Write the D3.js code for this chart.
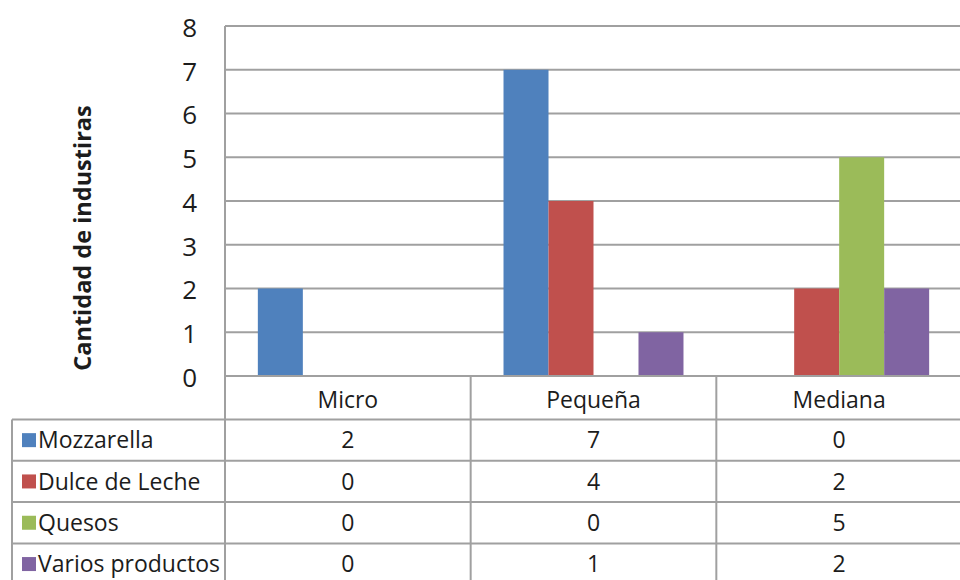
<!DOCTYPE html>
<html>
<head>
<meta charset="utf-8">
<script src="https://cdn.jsdelivr.net/npm/d3@7"></script>
<style>
  html, body { margin: 0; padding: 0; background: #fff; }
  svg { display: block; font-family: "Open Sans", Lato, sans-serif; }
</style>
</head>
<body>
<svg id="chart" width="960" height="580"></svg>
<script>
// Industries by size and product type
const categories = ["Micro", "Pequeña", "Mediana"];
const seriesNames = ["Mozzarella", "Dulce de Leche", "Quesos", "Varios productos"];
const mozzarella = [2, 7, 0];
const dulceDeLeche = [0, 4, 2];
const quesos = [0, 0, 5];
const variosProductos = [0, 1, 2];
const yTicks = [0, 1, 2, 3, 4, 5, 6, 7, 8];
const yTitle = "Cantidad de industiras";

const seriesValues = [mozzarella, dulceDeLeche, quesos, variosProductos];
const colors = ["#4F81BD", "#C0504D", "#9BBB59", "#8064A2"];
const gridColor = "#a0a0a0";
const textColor = "#1c1c1c";
const fontFamily = "'Open Sans', Lato, sans-serif";
const tableFont = 23;

const svg = d3.select("#chart");

const plot = { left: 225, right: 962, top: 26, bottom: 376 };
const table = { left: 12, headerBottom: 419.5, rowStep: 41.3 };

const x = d3.scaleBand().domain(categories).range([plot.left, plot.right]).padding(0);
const xs = d3.scaleBand().domain(seriesNames).range([0, x.bandwidth()])
  .paddingInner(0).paddingOuter(0.73);
const y = d3.scaleLinear().domain([0, 8]).range([plot.bottom, plot.top]);

// horizontal gridlines
svg.append("g").selectAll("line")
  .data(yTicks.filter(t => t > 0))
  .join("line")
  .attr("x1", plot.left).attr("x2", plot.right)
  .attr("y1", d => y(d)).attr("y2", d => y(d))
  .attr("stroke", gridColor).attr("stroke-width", 2);

// bars
const rows = [];
seriesNames.forEach((s, si) => {
  categories.forEach((c, ci) => rows.push({ s, si, c, v: seriesValues[si][ci] }));
});
svg.append("g").selectAll("rect")
  .data(rows.filter(d => d.v > 0))
  .join("rect")
  .attr("x", d => x(d.c) + xs(d.s))
  .attr("width", xs.bandwidth())
  .attr("y", d => y(d.v))
  .attr("height", d => y(0) - y(d.v))
  .attr("fill", d => colors[d.si]);

// y axis labels
const yAxis = d3.axisLeft(y).tickValues(yTicks).tickSize(0).tickPadding(0).tickFormat(d3.format("d"));
const ya = svg.append("g").attr("transform", `translate(197,2)`).call(yAxis);
ya.select(".domain").remove();
ya.selectAll("text")
  .attr("font-size", 26).attr("fill", textColor)
  .attr("font-family", fontFamily);

// y title
svg.append("text")
  .attr("transform", `translate(91,${(plot.top + plot.bottom) / 2 + 37}) rotate(-90)`)
  .attr("text-anchor", "middle")
  .attr("font-size", 23.5).attr("font-weight", "bold").attr("fill", textColor)
  .text(yTitle);

// data table
const ry = d3.scaleBand().domain(seriesNames)
  .range([table.headerBottom, table.headerBottom + table.rowStep * seriesNames.length]);
const tableBottom = 600;

const lines = svg.append("g").attr("stroke", gridColor).attr("stroke-width", 2);
// left axis line running down into the table
lines.append("line").attr("x1", plot.left).attr("x2", plot.left).attr("y1", plot.top).attr("y2", tableBottom);
// category column separators
categories.slice(1).forEach(c => {
  lines.append("line").attr("x1", x(c)).attr("x2", x(c)).attr("y1", plot.bottom).attr("y2", tableBottom);
});
// zero line / header top
lines.append("line").attr("x1", plot.left).attr("x2", plot.right).attr("y1", y(0)).attr("y2", y(0));
// row separators
seriesNames.forEach(s => {
  lines.append("line").attr("x1", table.left).attr("x2", plot.right).attr("y1", ry(s)).attr("y2", ry(s));
});
lines.append("line").attr("x1", table.left).attr("x2", table.left).attr("y1", table.headerBottom).attr("y2", tableBottom);

// header
svg.append("g").selectAll("text")
  .data(categories)
  .join("text")
  .attr("x", d => x(d) + x.bandwidth() / 2)
  .attr("y", (y(0) + table.headerBottom) / 2 + 2)
  .attr("dy", "0.35em")
  .attr("text-anchor", "middle")
  .attr("font-size", tableFont).attr("fill", textColor)
  .text(d => d);

// legend keys and series names
const leg = svg.append("g").selectAll("g")
  .data(seriesNames)
  .join("g")
  .attr("transform", d => `translate(0,${ry(d) + ry.bandwidth() / 2})`);
leg.append("rect")
  .attr("x", 22).attr("y", -7).attr("width", 14).attr("height", 14)
  .attr("fill", (d, i) => colors[i]);
leg.append("text")
  .attr("x", 38).attr("dy", "0.35em")
  .attr("font-size", tableFont).attr("fill", textColor)
  .text(d => d);

// values
svg.append("g").selectAll("text")
  .data(rows)
  .join("text")
  .attr("x", d => x(d.c) + x.bandwidth() / 2)
  .attr("y", d => ry(d.s) + ry.bandwidth() / 2)
  .attr("dy", "0.35em")
  .attr("text-anchor", "middle")
  .attr("font-size", tableFont).attr("fill", textColor)
  .text(d => d.v);
</script>
</body>
</html>
